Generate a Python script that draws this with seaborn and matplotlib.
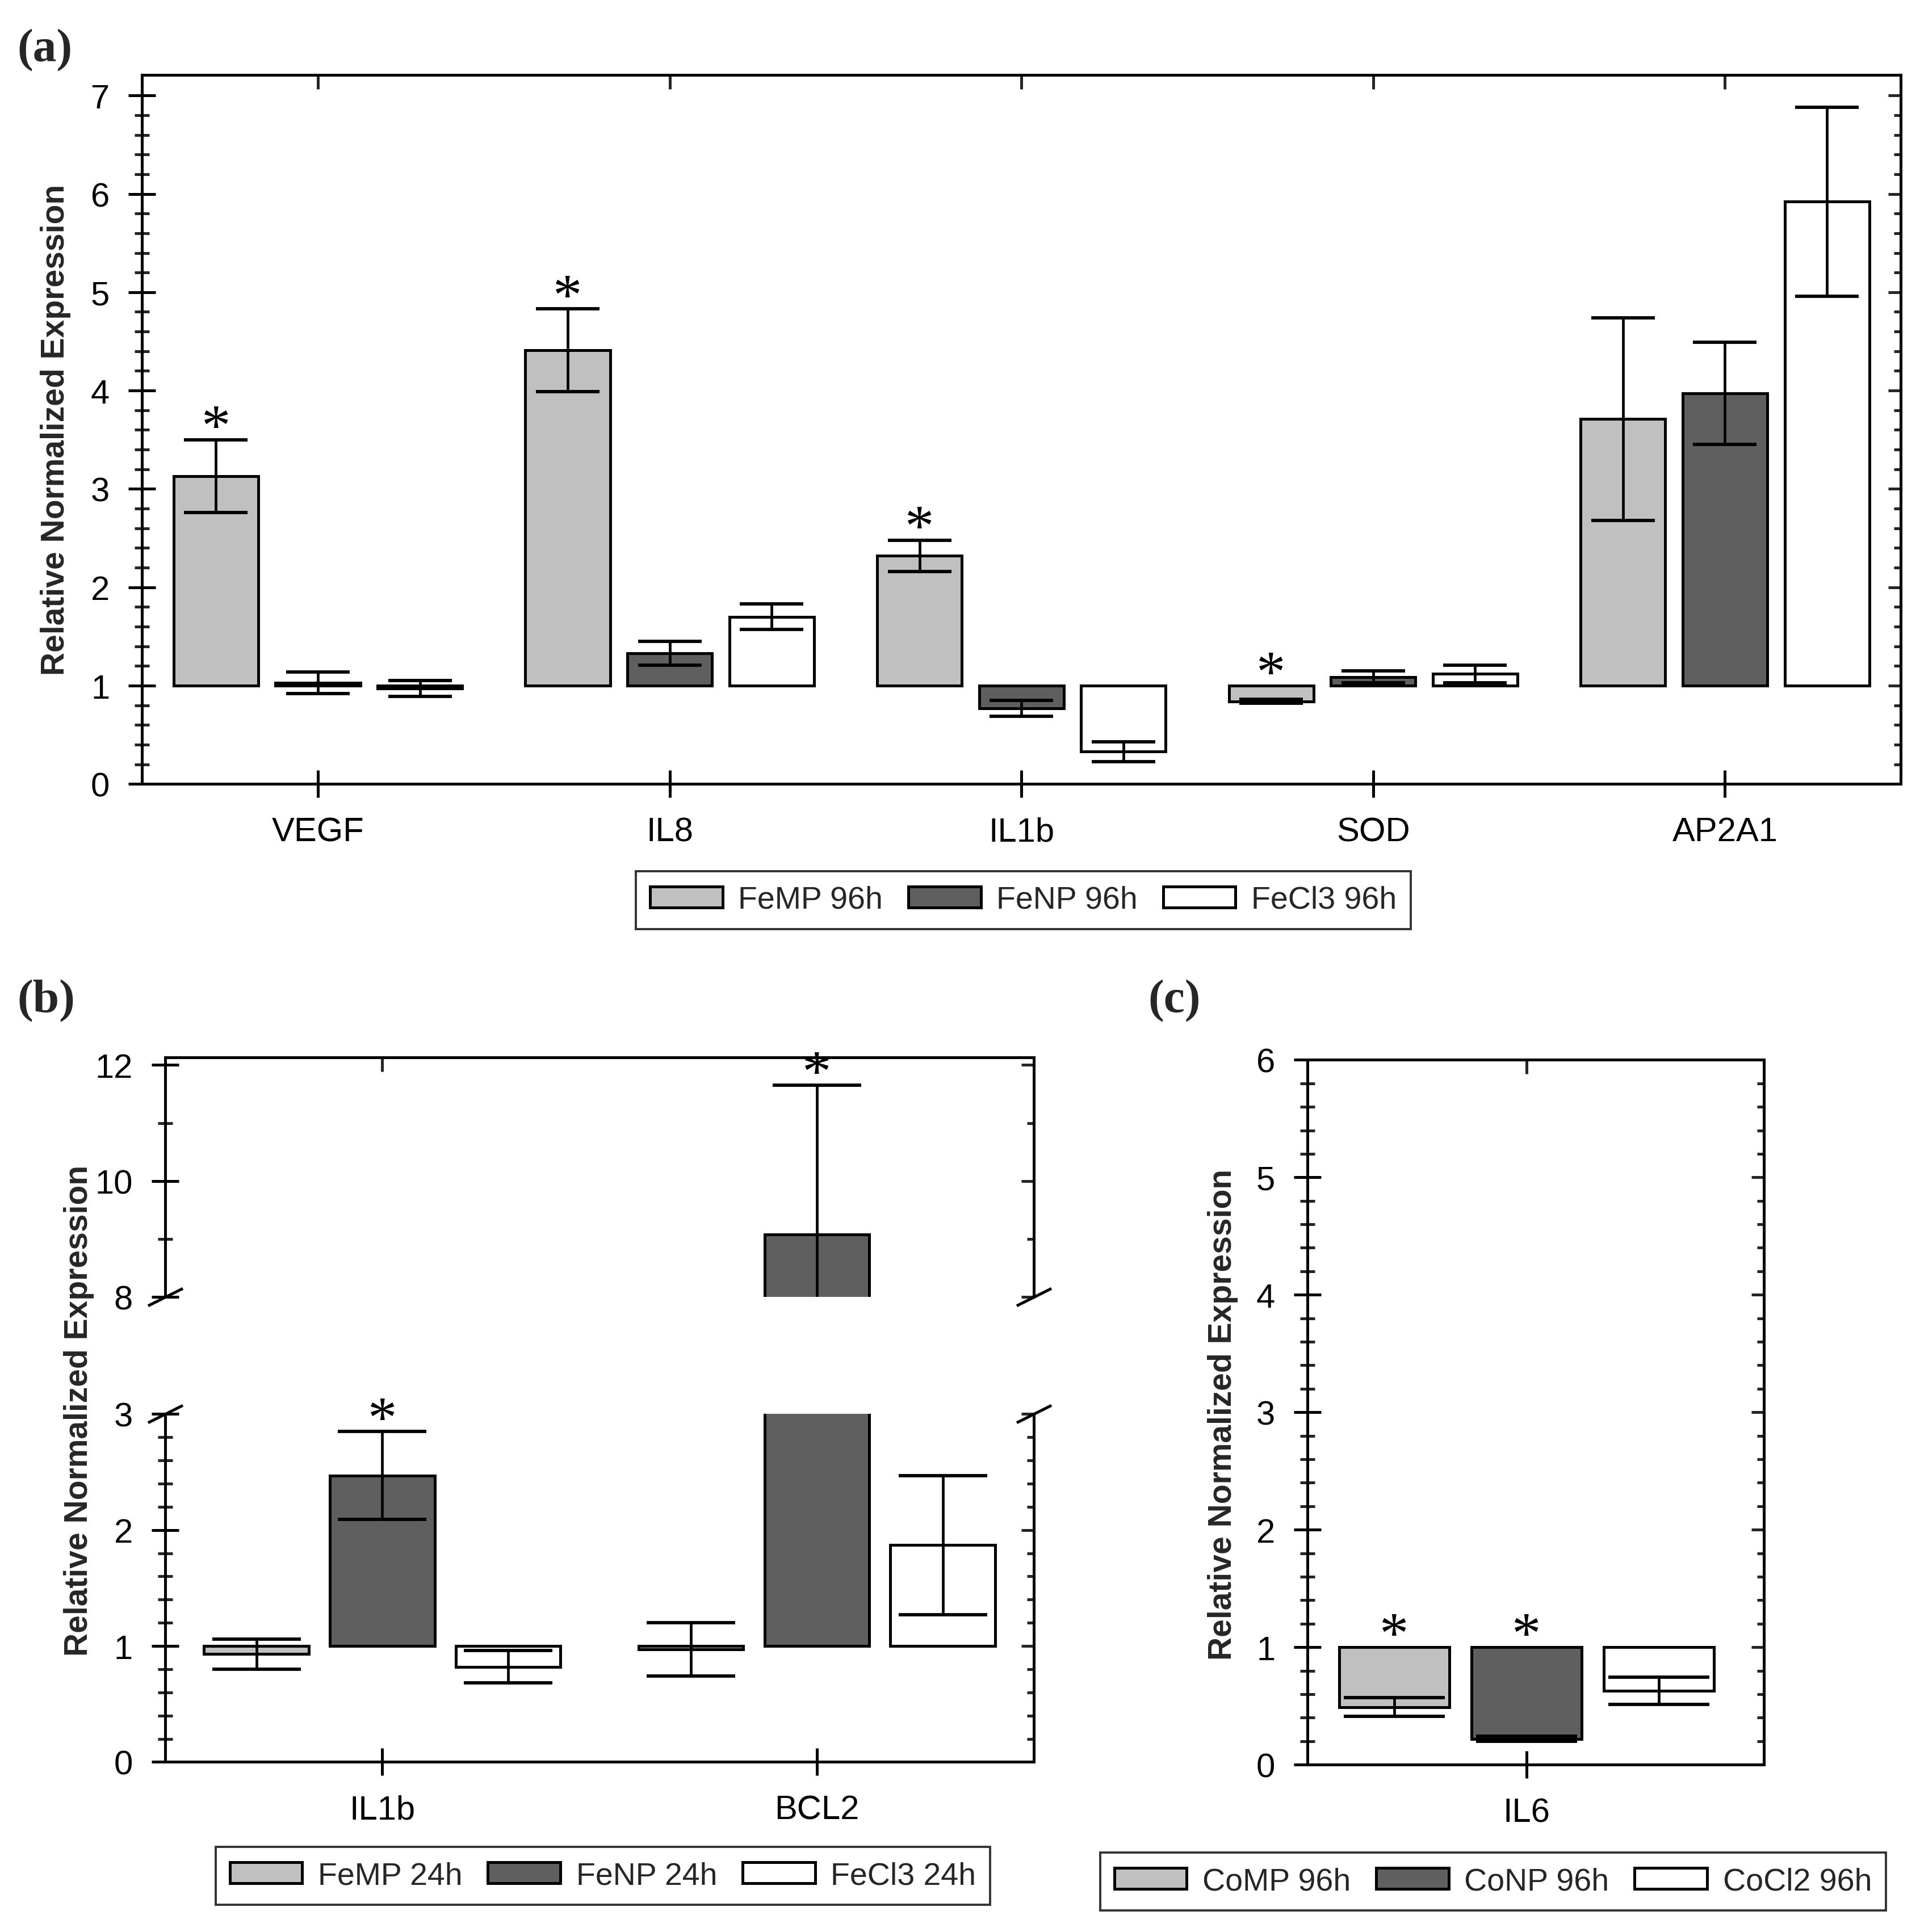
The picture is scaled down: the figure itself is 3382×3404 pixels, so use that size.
import numpy as np
import pandas as pd
import seaborn as sns
import matplotlib
matplotlib.use("Agg")
import matplotlib.pyplot as plt
from matplotlib import font_manager
from matplotlib.patches import Patch
from matplotlib.ticker import FixedLocator, NullFormatter

# values (relative normalized expression, control = 1)
genes_a = ["VEGF", "IL8", "IL1b", "SOD", "AP2A1"]
groups_a = ["FeMP 96h", "FeNP 96h", "FeCl3 96h"]
femp_96 = [3.13, 4.41, 2.32, 0.84, 3.71]
fenp_96 = [1.03, 1.33, 0.77, 1.09, 3.97]
fecl3_96 = [0.97, 1.70, 0.33, 1.12, 5.92]
femp_96_err = [0.37, 0.42, 0.16, 0.02, 1.03]
fenp_96_err = [0.11, 0.12, 0.08, 0.06, 0.52]
fecl3_96_err = [0.08, 0.13, 0.10, 0.09, 0.96]
femp_96_sig = [True, True, True, True, False]
fenp_96_sig = [False, False, False, False, False]
fecl3_96_sig = [False, False, False, False, False]

genes_b = ["IL1b", "BCL2"]
groups_b = ["FeMP 24h", "FeNP 24h", "FeCl3 24h"]
femp_24 = [0.93, 0.97]
fenp_24 = [2.47, 9.08]
fecl3_24 = [0.82, 1.87]
femp_24_err = [0.13, 0.23]
fenp_24_err = [0.38, 2.57]
fecl3_24_err = [0.14, 0.60]
femp_24_sig = [False, False]
fenp_24_sig = [True, True]
fecl3_24_sig = [False, False]

genes_c = ["IL6"]
groups_c = ["CoMP 96h", "CoNP 96h", "CoCl2 96h"]
comp_96 = [0.49]
conp_96 = [0.22]
cocl2_96 = [0.63]
comp_96_err = [0.08]
conp_96_err = [0.02]
cocl2_96_err = [0.115]
comp_96_sig = [True]
conp_96_sig = [True]
cocl2_96_sig = [False]

colors = ["#c0c0c0", "#5f5f5f", "#ffffff"]

sns.set_theme(style="ticks")
avail = {f.name for f in font_manager.fontManager.ttflist}
narrow = "Liberation Sans Narrow" in avail
sans = "Liberation Sans Narrow" if narrow else "Liberation Sans"
plt.rcParams["font.family"] = [sans, "DejaVu Sans"]
TICK_FS = 25 if narrow else 21.5
LEG_FS = 23.5 if narrow else 20
LW = 1.8


def long_table(genes, groups, means, errs, sigs):
    rows = []
    for grp, m, e, s in zip(groups, means, errs, sigs):
        for g, mv, ev, sv in zip(genes, m, e, s):
            rows.append({"gene": g, "group": grp, "mean": mv, "err": ev, "sig": sv})
    df = pd.DataFrame(rows)
    # bars start at the control level 1
    df["height"] = df["mean"] - 1
    return df


def draw_bars(ax, df, genes, groups, capsize, ylim):
    sns.barplot(data=df, x="gene", y="height", hue="group", order=genes,
                hue_order=groups, palette=colors, saturation=1, width=0.87,
                gap=0.17, errorbar=None, bottom=1, edgecolor="black",
                linewidth=LW, legend=False, ax=ax, zorder=2)
    for patch, (_, row) in zip(ax.patches, df.iterrows()):
        x = patch.get_x() + patch.get_width() / 2
        ax.errorbar(x, row["mean"], yerr=row["err"], fmt="none", ecolor="black",
                    elinewidth=1.7, capsize=capsize, capthick=2.1, zorder=3)
        # asterisk sits above whatever is highest: the cap or the bar edge at 1
        top = max(row["mean"] + row["err"], 1)
        if row["sig"] and ylim[0] < top < ylim[1] + 0.5:
            ax.annotate("*", xy=(x, top), xytext=(0, -11), textcoords="offset points",
                        ha="center", va="bottom", fontsize=37,
                        family="Liberation Serif", color="black", zorder=4,
                        annotation_clip=False)


def style_axes(ax, ncat, ylim, major, minor, xlim=None, top=True, bottom=True,
               ticklabels=None):
    ax.set_ylim(*ylim)
    ax.set_xlim(*(xlim if xlim else (-0.5, ncat - 0.5)))
    ax.set_xlabel("")
    ax.set_ylabel("")
    for s in ax.spines.values():
        s.set_linewidth(LW)
        s.set_color("black")
    ax.spines["top"].set_visible(top)
    ax.spines["bottom"].set_visible(bottom)
    ax.yaxis.set_major_locator(FixedLocator(major))
    ax.yaxis.set_minor_locator(FixedLocator(minor))
    ax.tick_params(axis="y", which="major", direction="inout", length=17,
                   width=LW, pad=12, labelsize=TICK_FS, colors="black")
    ax.tick_params(axis="y", which="minor", direction="inout", length=9.5,
                   width=LW)
    ax.set_yticklabels([f"{v:g}" for v in major])
    if bottom:
        ax.set_xticks(range(ncat))
        ax.set_xticklabels(ticklabels)
        ax.tick_params(axis="x", which="major", direction="inout", length=17,
                       width=LW, pad=12, labelsize=TICK_FS, colors="black")
    else:
        ax.tick_params(axis="x", which="both", bottom=False, labelbottom=False)
    right = ax.secondary_yaxis("right")
    right.yaxis.set_major_locator(FixedLocator(major))
    right.yaxis.set_minor_locator(FixedLocator(minor))
    right.yaxis.set_major_formatter(NullFormatter())
    right.tick_params(which="major", direction="in", length=8, width=LW)
    right.tick_params(which="minor", direction="in", length=4.5, width=LW)
    right.spines["right"].set_linewidth(LW)
    if top:
        upper = ax.secondary_xaxis("top")
        upper.set_xticks(range(ncat))
        upper.xaxis.set_major_formatter(NullFormatter())
        upper.tick_params(direction="in", length=9, width=LW)
        upper.spines["top"].set_linewidth(LW)


def add_legend(fig, groups, center):
    handles = [Patch(facecolor=c, edgecolor="black", linewidth=LW) for c in colors]
    leg = fig.legend(handles, groups, loc="center", bbox_to_anchor=center, ncol=3,
                     fontsize=LEG_FS, frameon=True, fancybox=False,
                     edgecolor="black", handlelength=2.3, handleheight=0.65,
                     handletextpad=0.5, columnspacing=0.8, borderpad=0.45)
    leg.get_frame().set_linewidth(1.4)


def ylabel(fig, x, y):
    fig.text(x, y, "Relative Normalized Expression", rotation=90, ha="center",
             va="center", fontsize=20.5, fontweight="bold",
             family=["Liberation Sans", "DejaVu Sans"])


fig = plt.figure(figsize=(16.91, 17.025), dpi=200)

# (a)
ax_a = fig.add_axes([0.074, 0.594, 0.916, 0.367])
df_a = long_table(genes_a, groups_a, [femp_96, fenp_96, fecl3_96],
                  [femp_96_err, fenp_96_err, fecl3_96_err],
                  [femp_96_sig, fenp_96_sig, fecl3_96_sig])
ylim_a = (0, 7.21)
draw_bars(ax_a, df_a, genes_a, groups_a, 20, ylim_a)
style_axes(ax_a, len(genes_a), ylim_a, list(range(0, 8)),
           [v / 5 for v in range(0, 36) if v % 5], ticklabels=genes_a)
add_legend(fig, groups_a, (0.533, 0.534))
ylabel(fig, 0.029, 0.7775)

# (b) broken y axis
ax_b_hi = fig.add_axes([0.086, 0.3285, 0.4525, 0.1241])
ax_b_lo = fig.add_axes([0.086, 0.088, 0.4525, 0.180])
df_b = long_table(genes_b, groups_b, [femp_24, fenp_24, fecl3_24],
                  [femp_24_err, fenp_24_err, fecl3_24_err],
                  [femp_24_sig, fenp_24_sig, fecl3_24_sig])
ylim_hi = (8, 12.13)
ylim_lo = (0, 3)
draw_bars(ax_b_hi, df_b, genes_b, groups_b, 28, ylim_hi)
draw_bars(ax_b_lo, df_b, genes_b, groups_b, 28, ylim_lo)
style_axes(ax_b_hi, len(genes_b), ylim_hi, [8, 10, 12], [9, 11], bottom=False)
style_axes(ax_b_lo, len(genes_b), ylim_lo, [0, 1, 2, 3],
           [v / 5 for v in range(0, 15) if v % 5], top=False, ticklabels=genes_b)
brk = dict(marker=[(-1, -0.5), (1, 0.5)], markersize=22, linestyle="none",
           color="black", mec="black", mew=LW, clip_on=False)
ax_b_hi.plot([0, 1], [0, 0], transform=ax_b_hi.transAxes, **brk)
ax_b_lo.plot([0, 1], [1, 1], transform=ax_b_lo.transAxes, **brk)
add_legend(fig, groups_b, (0.314, 0.029))
ylabel(fig, 0.041, 0.270)

# (c)
ax_c = fig.add_axes([0.681, 0.0866, 0.2376, 0.3647])
df_c = long_table(genes_c, groups_c, [comp_96, conp_96, cocl2_96],
                  [comp_96_err, conp_96_err, cocl2_96_err],
                  [comp_96_sig, conp_96_sig, cocl2_96_sig])
ylim_c = (0, 6)
draw_bars(ax_c, df_c, genes_c, groups_c, 32, ylim_c)
style_axes(ax_c, len(genes_c), ylim_c, list(range(0, 7)),
           [v / 5 for v in range(0, 30) if v % 5], xlim=(-0.48, 0.52),
           ticklabels=genes_c)
add_legend(fig, groups_c, (0.7776, 0.026))
ylabel(fig, 0.637, 0.268)

for label, x, y in [("(a)", 0.009, 0.985), ("(b)", 0.009, 0.493), ("(c)", 0.598, 0.493)]:
    fig.text(x, y, label, ha="left", va="top", fontsize=30, fontweight="bold",
             family=["Liberation Serif", "DejaVu Serif"])

fig.savefig("out.png", dpi=200, facecolor="white")
